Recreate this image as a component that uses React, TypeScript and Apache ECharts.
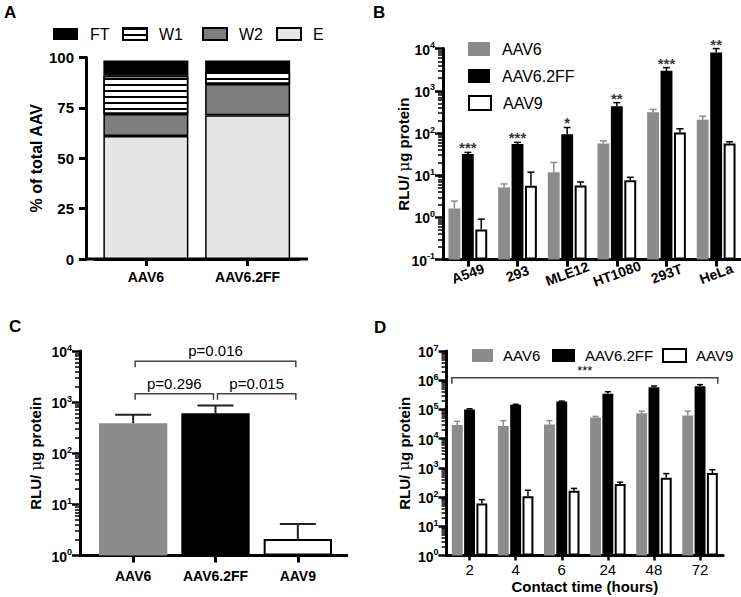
import React, { useEffect, useRef } from "react";
import * as echarts from "echarts";

const FONT = '"Liberation Sans", Arial, Helvetica, sans-serif';

// ---------- Panel A ----------
const fractionCats = ["AAV6", "AAV6.2FF"];
const fracE = [61, 71.4];
const fracW2 = [11, 15.4];
const fracW1 = [19, 6];
const fracFT = [7.5, 5.7];
const fracTicks = [0, 25, 50, 75, 100];

// ---------- Panel B ----------
const cellLines = ["A549", "293", "MLE12", "HT1080", "293T", "HeLa"];
const bAAV6 = [1.63, 5.1, 11.8, 56.7, 309, 205];
const bAAV6Err = [2.43, 6.2, 20, 65, 363, 250];
const bFF = [31.6, 55, 93, 433, 2970, 8130];
const bFFErr = [34.7, 60, 135, 525, 3550, 10000];
const bAAV9 = [0.52, 5.6, 5.7, 7.6, 103, 56.7];
const bAAV9Err = [0.91, 11.8, 6.9, 8.9, 126, 62];
const bStars = ["***", "***", "*", "**", "***", "**"];

// ---------- Panel C ----------
const cCats = ["AAV6", "AAV6.2FF", "AAV9"];
const cValues = [388, 603, 2.11];
const cErr = [565, 861, 4.12];
const cBracketFrom = [0, 0, 1];
const cBracketTo = [2, 1, 2];
const cBracketLevel = [6300, 1455, 1455];
const cBracketText = ["p=0.016", "p=0.296", "p=0.015"];

// ---------- Panel D ----------
const dTimes = ["2", "4", "6", "24", "48", "72"];
const dAAV6 = [29200, 27000, 30300, 52700, 73900, 62400];
const dAAV6Err = [39000, 41400, 41400, 57600, 87000, 87000];
const dFF = [100200, 145000, 186000, 341000, 575000, 616000];
const dFFErr = [105000, 150000, 193000, 404000, 634000, 706000];
const dAAV9 = [60, 107, 165, 279, 461, 663];
const dAAV9Err = [82, 172, 198, 324, 636, 867];
const dBracketFrom = [0];
const dBracketTo = [5];
const dBracketLevel = [1210000];
const dBracketText = ["***"];

const GRAY = "#8c8c8c";

const supRich = {
  b: { fontFamily: FONT, fontWeight: "bold", fontSize: 14, color: "#000", verticalAlign: "bottom" },
  s: { fontFamily: FONT, fontWeight: "bold", fontSize: 9, color: "#000", verticalAlign: "bottom", padding: [0, 0, 7, 0] },
};
const supFormatter = (v: number) => `{b|10}{s|${Math.round(Math.log10(v))}}`;

const yTitle = "{b|RLU/ }{m|\u03bc}{b|g protein}";
const yTitleRich = {
  b: { fontFamily: FONT, fontWeight: "bold", fontSize: 15, color: "#000" },
  m: { fontFamily: "DejaVu Serif, serif", fontWeight: "normal", fontSize: 15, color: "#000" },
};

function catAxis(gridIndex: number, data: string[], labelOpts: any = {}, extra: any = {}) {
  return {
    type: "category",
    gridIndex,
    data,
    axisLine: { show: true, lineStyle: { color: "#000", width: 3 } },
    axisTick: { show: true, alignWithLabel: true, length: 7, lineStyle: { color: "#000", width: 3 } },
    axisLabel: {
      interval: 0,
      color: "#000",
      fontFamily: FONT,
      fontWeight: "bold",
      fontSize: 14,
      ...labelOpts,
    },
    splitLine: { show: false },
    ...extra,
  };
}

function logAxis(gridIndex: number, min: number, max: number, nameGap: number, offset = 0) {
  return {
    type: "log",
    logBase: 10,
    gridIndex,
    min,
    max,
    startValue: min,
    offset,
    splitNumber: Math.round(Math.log10(max / min)),
    name: yTitle,
    nameLocation: "middle",
    nameGap,
    nameRotate: 90,
    nameMoveOverlap: false,
    nameTextStyle: { rich: yTitleRich },
    axisLine: { show: true, lineStyle: { color: "#000", width: 3 } },
    axisTick: { show: true, length: 8, lineStyle: { color: "#000", width: 2.5 } },
    minorTick: { show: true, splitNumber: 9, length: 5, lineStyle: { color: "#000", width: 1.5 } },
    axisLabel: { formatter: supFormatter, rich: supRich, margin: 8 },
    splitLine: { show: false },
    minorSplitLine: { show: false },
  };
}

function errSeries(axisIndex: number, vals: number[], highs: number[], idx: number, n: number, catGap: number, barGap: number, color: string, capHalf: number, lw: number) {
  return {
    type: "custom",
    xAxisIndex: axisIndex,
    yAxisIndex: axisIndex,
    silent: true,
    clip: false,
    z: 3,
    data: vals.map((v, i) => [i, highs[i], v]),
    encode: { x: 0, y: 1 },
    renderItem: (params: any, api: any) => {
      const i = api.value(0);
      const hi = api.value(1);
      const lo = api.value(2);
      const band = api.size([1, 0])[0];
      const group = band * (1 - catGap);
      const w = group / (n + (n - 1) * barGap);
      const c = api.coord([i, hi]);
      const x = c[0] - group / 2 + idx * w * (1 + barGap) + w / 2;
      const yHi = c[1];
      const yLo = api.coord([i, lo])[1];
      return {
        type: "group",
        children: [
          { type: "line", shape: { x1: x, y1: yLo, x2: x, y2: yHi }, style: { stroke: color, lineWidth: lw } },
          { type: "line", shape: { x1: x - capHalf, y1: yHi, x2: x + capHalf, y2: yHi }, style: { stroke: color, lineWidth: lw } },
        ],
      };
    },
  };
}

function bracketSeries(axisIndex: number, from: number[], to: number[], level: number[], texts: string[], toGroupEdge: number, fontSize: number, inset: number, textGap: number) {
  return {
    type: "custom",
    xAxisIndex: axisIndex,
    yAxisIndex: axisIndex,
    silent: true,
    clip: false,
    z: 4,
    data: from.map((f, i) => [f, to[i], level[i]]),
    encode: { x: [0, 1], y: 2 },
    renderItem: (params: any, api: any) => {
      const a = api.coord([api.value(0), api.value(2)]);
      const b = api.coord([api.value(1), api.value(2)]);
      const band = api.size([1, 0])[0];
      const ext = (band * toGroupEdge) / 2;
      const x1 = a[0] - ext + inset;
      const x2 = b[0] + ext - inset;
      const y = a[1];
      return {
        type: "group",
        children: [
          {
            type: "polyline",
            shape: { points: [[x1, y + 6], [x1, y], [x2, y], [x2, y + 6]] },
            style: { stroke: "#444", lineWidth: 1.5, fill: "none" },
          },
          {
            type: "text",
            x: (x1 + x2) / 2,
            y: y - textGap,
            style: { text: texts[params.dataIndex], align: "center", verticalAlign: "bottom", fontSize, fontFamily: FONT, fill: "#000" },
          },
        ],
      };
    },
  };
}

function legendItem(name: string, left: number, top: number, w: number, h: number, fontSize: number, pad: number) {
  return {
    data: [name],
    left,
    top,
    orient: "horizontal",
    icon: "rect",
    itemWidth: w,
    itemHeight: h,
    selectedMode: false,
    formatter: "{t|{name}}",
    textStyle: {
      color: "#000",
      fontFamily: FONT,
      fontSize,
      rich: { t: { fontFamily: FONT, fontSize, color: "#000", padding: [0, 0, 0, pad] } },
    },
  };
}

const B_CAT_GAP = 0.22;
const D_CAT_GAP = 0.23;
const BAR_GAP = 0.13;

function groupedBar(name: string, axisIndex: number, values: number[], color: string, border: boolean, catGap: number) {
  return {
    type: "bar",
    name,
    xAxisIndex: axisIndex,
    yAxisIndex: axisIndex,
    data: values,
    barGap: `${BAR_GAP * 100}%`,
    barCategoryGap: `${catGap * 100}%`,
    silent: true,
    itemStyle: { color, borderColor: border ? "#000" : color, borderWidth: border ? 2 : 0 },
  };
}

export default function App() {
  const ref = useRef<HTMLDivElement>(null);
  useEffect(() => {
    if (!ref.current) return;
    const chart = echarts.init(ref.current, null, { renderer: "svg" });
    const aBorder = { borderColor: "#000", borderWidth: 1.5 };
    const option: any = {
      animation: false,
      textStyle: { fontFamily: FONT },
      grid: [
        { left: 95, top: 57.5, width: 203.5, height: 201.5, outerBoundsMode: "none", containLabel: false },
        { left: 443, top: 48.6, width: 298, height: 211, outerBoundsMode: "none", containLabel: false },
        { left: 92, top: 351, width: 247, height: 204.5, outerBoundsMode: "none", containLabel: false },
        { left: 446.5, top: 351, width: 276.6, height: 204.5, outerBoundsMode: "none", containLabel: false },
      ],
      legend: [
        legendItem("FT", 48, 21, 25, 12, 16, 7),
        legendItem("W1", 117, 21, 24, 12, 16, 7),
        legendItem("W2", 197, 21, 24, 12, 16, 7),
        legendItem("E", 271, 21, 24, 12, 16, 7),
        legendItem("AAV6", 463, 36, 22, 14, 16, 7),
        legendItem("AAV6.2FF", 463, 63, 22, 14, 16, 7),
        legendItem("AAV9", 463, 90, 22, 14, 16, 7),
        legendItem("AAV6 ", 467, 343, 21, 13, 15, 5),
        legendItem("AAV6.2FF ", 547, 343, 23, 13, 15, 5),
        legendItem("AAV9 ", 657, 343, 23, 13, 15, 5),
      ],
      xAxis: [
        catAxis(0, fractionCats, { fontSize: 14, margin: 11 }),
        catAxis(1, cellLines, { fontSize: 14, rotate: 20, margin: 14, align: "center" }),
        catAxis(2, cCats, { fontSize: 14, margin: 13 }),
        catAxis(3, dTimes, { fontSize: 15, fontWeight: "normal", margin: 6 }, {
          name: "Contact time (hours)",
          nameLocation: "middle",
          nameGap: 23,
          nameMoveOverlap: false,
          nameTextStyle: { fontFamily: FONT, fontWeight: "bold", fontSize: 15, color: "#000" },
          axisTick: { show: true, alignWithLabel: true, length: 5, lineStyle: { color: "#000", width: 2.5 } },
        }),
      ],
      yAxis: [
        {
          type: "value",
          gridIndex: 0,
          min: 0,
          max: 100,
          interval: 25,
          offset: 9,
          name: "% of total AAV",
          nameLocation: "middle",
          nameGap: 42,
          nameRotate: 90,
          nameMoveOverlap: false,
          nameTextStyle: { fontFamily: FONT, fontWeight: "bold", fontSize: 16, color: "#000" },
          axisLine: { show: true, lineStyle: { color: "#000", width: 3 } },
          axisTick: { show: true, length: 7, lineStyle: { color: "#000", width: 3 } },
          axisLabel: { color: "#000", fontFamily: FONT, fontWeight: "bold", fontSize: 15, margin: 12, customValues: fracTicks },
          splitLine: { show: false },
        },
        logAxis(1, 0.1, 10000, 32),
        logAxis(2, 1, 10000, 37, 12),
        logAxis(3, 1, 10000000, 35),
      ],
      series: [
        // Panel A
        { type: "bar", name: "E", stack: "A", xAxisIndex: 0, yAxisIndex: 0, barWidth: 85, data: fracE, silent: true, itemStyle: { color: "#e6e6e6", ...aBorder } },
        { type: "bar", name: "W2", stack: "A", xAxisIndex: 0, yAxisIndex: 0, barWidth: 85, data: fracW2, silent: true, itemStyle: { color: "#7f7f7f", ...aBorder } },
        {
          type: "bar", name: "W1", stack: "A", xAxisIndex: 0, yAxisIndex: 0, barWidth: 85, data: fracW1, silent: true,
          itemStyle: {
            color: "#ffffff", ...aBorder,
            decal: { symbol: "rect", symbolSize: 1, symbolKeepAspect: false, color: "#000", backgroundColor: "#ffffff", dashArrayX: [1, 0], dashArrayY: [1.5, 3.5], rotation: 0 },
          },
        },
        { type: "bar", name: "FT", stack: "A", xAxisIndex: 0, yAxisIndex: 0, barWidth: 85, data: fracFT, silent: true, itemStyle: { color: "#000", borderColor: "#000", borderWidth: 0 } },

        // Panel B
        groupedBar("AAV6", 1, bAAV6, GRAY, false, B_CAT_GAP),
        groupedBar("AAV6.2FF", 1, bFF, "#000", false, B_CAT_GAP),
        groupedBar("AAV9", 1, bAAV9, "#fff", true, B_CAT_GAP),
        errSeries(1, bAAV6, bAAV6Err, 0, 3, B_CAT_GAP, BAR_GAP, GRAY, 3.5, 1.5),
        errSeries(1, bFF, bFFErr, 1, 3, B_CAT_GAP, BAR_GAP, "#000", 3.5, 1.5),
        errSeries(1, bAAV9, bAAV9Err, 2, 3, B_CAT_GAP, BAR_GAP, "#000", 3.5, 1.5),
        {
          type: "scatter",
          xAxisIndex: 1,
          yAxisIndex: 1,
          symbolSize: 0.1,
          silent: true,
          data: bFFErr,
          label: {
            show: true,
            position: "top",
            distance: -3,
            formatter: (p: any) => bStars[p.dataIndex],
            fontFamily: FONT,
            fontSize: 15,
            fontWeight: "bold",
            color: "#000",
          },
        },

        // Panel C
        {
          type: "bar",
          name: "Panel C",
          xAxisIndex: 2,
          yAxisIndex: 2,
          barCategoryGap: "17%",
          silent: true,
          data: cValues.map((v, i) => ({
            value: v,
            itemStyle: i === 0 ? { color: GRAY } : i === 1 ? { color: "#000" } : { color: "#fff", borderColor: "#000", borderWidth: 2 },
          })),
        },
        errSeries(2, cValues, cErr, 0, 1, 0.17, 0, "#222", 18, 2),
        bracketSeries(2, cBracketFrom, cBracketTo, cBracketLevel, cBracketText, 0, 15, 2, 3),

        // Panel D
        groupedBar("AAV6 ", 3, dAAV6, GRAY, false, D_CAT_GAP),
        groupedBar("AAV6.2FF ", 3, dFF, "#000", false, D_CAT_GAP),
        groupedBar("AAV9 ", 3, dAAV9, "#fff", true, D_CAT_GAP),
        errSeries(3, dAAV6, dAAV6Err, 0, 3, D_CAT_GAP, BAR_GAP, GRAY, 3, 1.5),
        errSeries(3, dFF, dFFErr, 1, 3, D_CAT_GAP, BAR_GAP, "#000", 3, 1.5),
        errSeries(3, dAAV9, dAAV9Err, 2, 3, D_CAT_GAP, BAR_GAP, "#000", 3, 1.5),
        bracketSeries(3, dBracketFrom, dBracketTo, dBracketLevel, dBracketText, 1 - D_CAT_GAP, 13, 0, 1),
      ],
      graphic: [
        { type: "text", x: 4, y: 4, style: { text: "A", fontFamily: FONT, fontWeight: "bold", fontSize: 17, fill: "#000", verticalAlign: "top" } },
        { type: "text", x: 373, y: 4, style: { text: "B", fontFamily: FONT, fontWeight: "bold", fontSize: 17, fill: "#000", verticalAlign: "top" } },
        { type: "text", x: 9, y: 318, style: { text: "C", fontFamily: FONT, fontWeight: "bold", fontSize: 17, fill: "#000", verticalAlign: "top" } },
        { type: "text", x: 374, y: 319, style: { text: "D", fontFamily: FONT, fontWeight: "bold", fontSize: 17, fill: "#000", verticalAlign: "top" } },
        { type: "line", shape: { x1: 86, y1: 259, x2: 308, y2: 259 }, style: { stroke: "#000", lineWidth: 3 } },
        { type: "line", shape: { x1: 79, y1: 555.5, x2: 348, y2: 555.5 }, style: { stroke: "#000", lineWidth: 3 } },
      ],
    };
    chart.setOption(option);
    return () => chart.dispose();
  }, []);
  return <div ref={ref} style={{ position: "absolute", left: 0, top: 0, width: 741, height: 597, background: "#fff" }} />;
}
